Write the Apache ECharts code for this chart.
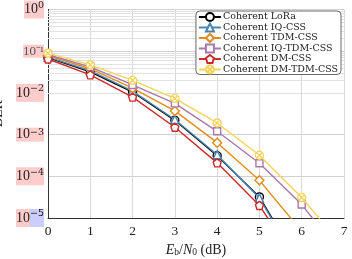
<!DOCTYPE html>
<html><head><meta charset="utf-8">
<script src="https://cdn.jsdelivr.net/npm/echarts@6/dist/echarts.min.js"></script>
<style>html,body{margin:0;padding:0;background:#fff}#c{width:352px;height:259px}</style>
</head><body><div id="c"></div>
<script>
var ebn0 = [0, 1, 2, 3, 4, 5, 6, 7];
var xTicks = [0, 1, 2, 3, 4, 5, 6, 7];
var yExponents = [0, -1, -2, -3, -4, -5];
var names = ['Coherent LoRa', 'Coherent IQ-CSS', 'Coherent TDM-CSS', 'Coherent IQ-TDM-CSS', 'Coherent DM-CSS', 'Coherent DM-TDM-CSS'];
var berLoRa   = [0.070, 0.032, 0.0105, 0.0022, 0.00031, 3.2e-5, 6.3e-7];
var berIQ     = [0.072, 0.034, 0.0110, 0.0023, 0.00033, 3.0e-5, 6.0e-7];
var berTDM    = [0.078, 0.038, 0.0130, 0.0037, 0.00064, 8.0e-5, 4.8e-6];
var berIQTDM  = [0.082, 0.042, 0.0155, 0.0056, 0.00120, 2.05e-4, 2.1e-5, 1.1e-6];
var berDM     = [0.065, 0.027, 0.0079, 0.0015, 0.00021, 2.0e-5, 5.7e-7];
var berDMTDM  = [0.090, 0.047, 0.0200, 0.0074, 0.00190, 3.2e-4, 3.1e-5, 1.9e-6];
var minorGrid = [];
for (var e = -5; e < 0; e++) for (var m = 2; m <= 9; m++) minorGrid.push(m * Math.pow(10, e));

var colors = ['#000000', '#4a84b0', '#e08c1a', '#a778a8', '#cc2a2a', '#f5d35a'];
var symbols = ['circle', 'triangle', 'diamond', 'rect',
  'path://M0,-10L9.51,-3.09L5.88,8.09L-5.88,8.09L-9.51,-3.09Z',
  'path://M10,0A10,10 0 1 1 -10,0A10,10 0 1 1 10,0ZM-7.07,-7.07L7.07,7.07M-7.07,7.07L7.07,-7.07'];
var datas = [berLoRa, berIQ, berTDM, berIQTDM, berDM, berDMTDM];
var sizes = [8, 8, 9, 7, 8, 8];

function pair(arr) { return arr.map(function (v, i) { return [ebn0[i], v]; }); }

var series = datas.map(function (d, i) {
  return {
    name: names[i], type: 'line', data: pair(d), clip: true,
    symbol: symbols[i], symbolSize: sizes[i], showAllSymbol: true,
    lineStyle: { color: colors[i], width: 1.4 },
    itemStyle: { color: '#fff', borderColor: colors[i], borderWidth: 1.4 },
    emphasis: { disabled: true },
    z: 3 + i
  };
});
series[0].markLine = {
  silent: true, symbol: 'none', label: { show: false }, z: 1,
  lineStyle: { color: '#e2e2e2', width: 1, type: 'solid' },
  emphasis: { disabled: true },
  data: minorGrid.map(function (v) { return { yAxis: v }; })
};

var serif = 'Liberation Serif';
var chart = echarts.init(document.getElementById('c'), null, { renderer: 'canvas' });
chart.setOption({
  animation: false,
  backgroundColor: '#fff',
  color: colors,
  grid: { left: 48, right: 8, top: 9.5, bottom: 41, show: false, containLabel: false, outerBoundsMode: 'none' },
  legend: {
    data: names, orient: 'vertical', right: 11, top: 11,
    backgroundColor: '#fff', borderColor: '#444', borderWidth: 0.8, borderRadius: 4,
    padding: [1, 3, 0, 2], itemGap: 0.5, itemWidth: 22, itemHeight: 10,
    textStyle: { fontFamily: 'DejaVu Serif', fontSize: 9.5, lineHeight: 10, color: '#222', padding: [0, 0, 0, -3] }
  },
  xAxis: {
    type: 'value', min: 0, max: 7, interval: 1,
    axisLine: { show: true, onZero: false, lineStyle: { color: '#333', width: 1 } },
    axisTick: { show: false },
    splitLine: { show: true, lineStyle: { color: '#d9d9d9', width: 1 } },
    axisLabel: { fontFamily: serif, fontSize: 13.5, color: '#222', margin: 6,
      formatter: function (v) { return xTicks.indexOf(v) >= 0 ? String(v) : ''; } },
    name: '{i|E}{s|b}{n|/}{i|N}{s|0}{n| (dB)}', nameLocation: 'middle', nameGap: 22,
    nameTextStyle: { rich: {
      i: { fontFamily: serif, fontStyle: 'italic', fontSize: 14, color: '#222' },
      n: { fontFamily: serif, fontSize: 14, color: '#222' },
      s: { fontFamily: serif, fontSize: 9.5, color: '#222', verticalAlign: 'bottom', padding: [6, 0, 0, 0] }
    } }
  },
  yAxis: {
    type: 'log', logBase: 10, min: 1e-5, max: 1,
    axisLine: { show: true, onZero: false, lineStyle: { color: '#333', width: 1 } },
    axisTick: { show: false },
    splitLine: { show: true, lineStyle: { color: '#d0d0d0', width: 1 } },
    axisLabel: {
      margin: 4, fontFamily: serif, fontSize: 13, backgroundColor: '#fcc',
      formatter: function (v) {
        var e = Math.round(Math.log10(v));
        if (yExponents.indexOf(e) < 0) return '';
        if (e === -1) return '10\u207B\u00B9';
        if (e === -2) return '{b|10}{t|\u22122}';
        if (e === -3) return '{b|10}{w|\u22123}';
        if (e === -4) return '{b|10}{t|\u22124}';
        if (e === -5) return '{b|10}{v|\u22125}';
        return '{b|10}{t|0}';
      },
      rich: {
        b: { fontFamily: serif, fontSize: 14, color: '#222' },
        t: { fontFamily: 'DejaVu Serif', fontSize: 9.5, color: '#222', padding: [0, 0, 8, 0] },
        w: { fontFamily: 'DejaVu Serif', fontSize: 9.5, color: '#222', verticalAlign: 'top', lineHeight: 10 },
        v: { fontFamily: 'DejaVu Sans', fontSize: 9.5, color: '#222', padding: [0, 0, 8, 0], backgroundColor: '#ccf' }
      }
    },
    name: 'BER', nameLocation: 'middle', nameGap: 37, nameRotate: 90,
    nameTextStyle: { fontFamily: serif, fontSize: 14, color: '#222' }
  },
  series: series
});
</script></body></html>
